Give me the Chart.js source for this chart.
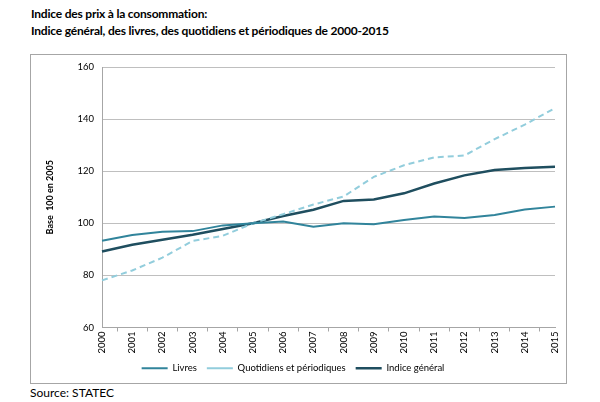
<!DOCTYPE html>
<html>
<head>
<meta charset="utf-8">
<script src="https://cdn.jsdelivr.net/npm/chart.js@4"></script>
<style>
  body { margin: 0; background: #fff; font-family: Lato, "Open Sans", sans-serif; }
  #title { position: absolute; left: 31px; top: 5px; font-weight: bold; font-size: 12px; line-height: 17px; color: #000; letter-spacing: -0.2px; }
  #box { position: absolute; left: 30px; top: 54px; width: 535px; height: 328px; border: 1px solid #a6a6a6; }
  #wrap { position: absolute; left: 0; top: 0; width: 535px; height: 328px; }
  #source { position: absolute; left: 30px; top: 385px; font-size: 12px; color: #000; }
</style>
</head>
<body>
<div id="title">Indice des prix à la consommation:<br>Indice général, des livres, des quotidiens et périodiques de 2000-2015</div>
<div id="box"><div id="wrap"><canvas id="chart"></canvas></div></div>
<div id="source">Source: STATEC</div>
<script>
// Années (axe x)
const years = ["2000", "2001", "2002", "2003", "2004", "2005", "2006", "2007",
               "2008", "2009", "2010", "2011", "2012", "2013", "2014", "2015"];

// Valeurs (base 100 en 2005)
const livres = [93.3, 95.5, 96.8, 97.0, 99.2, 100.0, 100.7, 98.7,
                100.0, 99.6, 101.3, 102.6, 102.0, 103.2, 105.3, 106.4];
const quotidiens = [78.1, 81.9, 86.8, 93.2, 95.2, 100.0, 103.5, 107.2,
                    110.3, 117.8, 122.3, 125.3, 126.0, 132.3, 137.9, 144.2];
const indiceGeneral = [89.2, 91.8, 93.7, 95.6, 97.8, 100.0, 102.8, 105.2,
                       108.6, 109.1, 111.5, 115.3, 118.4, 120.5, 121.2, 121.7];

// Axe y
const yMin = 60, yMax = 160, yStep = 20;

const tickFont = { family: "Lato", size: 9.5 };

new Chart(document.getElementById('chart'), {
    type: 'line',
    data: {
        labels: years,
        datasets: [{
            label: 'Livres',
            data: livres,
            borderColor: '#31849b',
            backgroundColor: '#31849b',
            borderWidth: 2,
            pointRadius: 0,
            tension: 0
        }, {
            label: 'Quotidiens et périodiques',
            data: quotidiens,
            borderColor: '#92cddc',
            backgroundColor: '#92cddc',
            borderWidth: 2,
            borderDash: [6, 4],
            pointRadius: 0,
            tension: 0
        }, {
            label: 'Indice général',
            data: indiceGeneral,
            borderColor: '#1f4e5f',
            backgroundColor: '#1f4e5f',
            borderWidth: 2.5,
            pointRadius: 0,
            tension: 0
        }]
    },
    options: {
        responsive: true,
        maintainAspectRatio: false,
        animation: false,
        layout: { autoPadding: false, padding: { top: 12, right: 11, left: 0, bottom: 0 } },
        plugins: {
            tooltip: { enabled: false },
            legend: {
                position: 'bottom',
                labels: {
                    usePointStyle: true,
                    pointStyle: 'line',
                    pointStyleWidth: 26,
                    boxHeight: 8,
                    padding: 10,
                    color: '#000',
                    font: { family: "Lato", size: 9.5 }
                }
            }
        },
        scales: {
            x: {
                offset: false,
                grid: {
                    offset: true,
                    drawOnChartArea: false,
                    drawTicks: true,
                    tickLength: 4,
                    color: '#a6a6a6'
                },
                border: { color: '#a6a6a6', width: 1 },
                ticks: {
                    minRotation: 90,
                    maxRotation: 90,
                    autoSkip: false,
                    padding: 0,
                    color: '#000',
                    font: tickFont
                },
                afterFit: function (scale) {
                    scale.height = 26;
                    scale.paddingLeft = 0;
                    scale.paddingRight = 0;
                }
            },
            y: {
                min: yMin,
                max: yMax,
                ticks: {
                    stepSize: yStep,
                    padding: 8,
                    color: '#000',
                    font: tickFont
                },
                grid: { color: '#bfbfbf', drawTicks: false, lineWidth: 1 },
                border: { color: '#a6a6a6', width: 1 },
                title: {
                    display: true,
                    text: 'Base  100 en 2005',
                    color: '#000',
                    font: { family: "Lato", size: 9, weight: 'bold' },
                    padding: { top: 14, bottom: 0 }
                },
                afterFit: function (scale) {
                    scale.width = 71;
                    scale.paddingTop = 0;
                    scale.paddingBottom = 0;
                }
            }
        }
    }
});
</script>
</body>
</html>
